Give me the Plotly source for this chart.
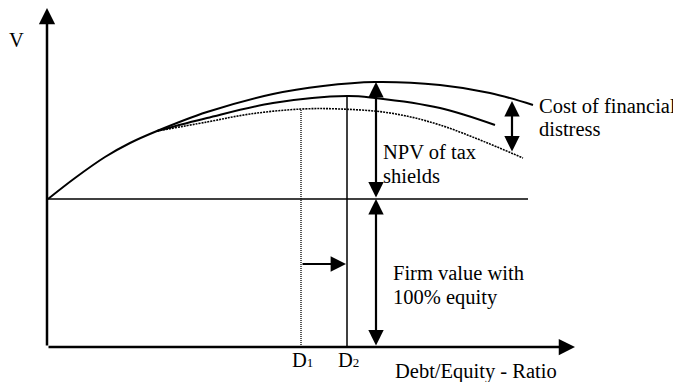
import plotly.graph_objects as go

# Curves (x = debt/equity ratio, y = firm value V)
levered_x = [1, 28, 58, 83, 110, 160, 226, 276, 328, 393, 443, 486]
levered_y = [148, 169, 190, 204, 216, 235, 253, 261, 265, 262, 254, 242]

actual_x = [110, 160, 226, 300, 328, 393, 448]
actual_y = [216, 229, 244, 251, 249, 239, 222]

distress_x = [110, 160, 203, 255, 293, 343, 393, 476]
distress_y = [216, 225, 233, 238, 238, 234, 222, 189]

unlevered_value = 148
unlevered_end = 481
d1 = 254
d2 = 300
d1_top = 238
d2_top = 251
x_axis_end = 528
y_axis_end = 339
arrow_x = 329
arrow_top = 265
distress_arrow_x = 465
distress_arrow = [246, 194]
shift_arrow_y = 83

FONT = "Liberation Serif, Times New Roman, serif"
INK = "black"

fig = go.Figure()

fig.add_trace(go.Scatter(x=levered_x, y=levered_y, mode="lines",
                         line=dict(color=INK, width=2, shape="spline")))
fig.add_trace(go.Scatter(x=actual_x, y=actual_y, mode="lines",
                         line=dict(color=INK, width=2, shape="spline")))
fig.add_trace(go.Scatter(x=distress_x, y=distress_y, mode="lines",
                         line=dict(color=INK, width=1.6, shape="spline", dash="2px,1px")))

# unlevered firm value line
fig.add_trace(go.Scatter(x=[0, unlevered_end], y=[unlevered_value, unlevered_value],
                         mode="lines", line=dict(color=INK, width=1.5)))
# D1 and D2 verticals
fig.add_trace(go.Scatter(x=[d1, d1], y=[0, d1_top], mode="lines",
                         line=dict(color=INK, width=1.3, dash="1px,1px")))
fig.add_trace(go.Scatter(x=[d2, d2], y=[0, d2_top], mode="lines",
                         line=dict(color=INK, width=1.5)))


def arrow(x0, y0, x1, y1, both=False, width=2, size=1.5):
    fig.add_annotation(x=x1, y=y1, ax=x0, ay=y0, xref="x", yref="y",
                       axref="x", ayref="y", text="", showarrow=True,
                       arrowhead=2, arrowsize=size, arrowwidth=width,
                       arrowcolor=INK, startarrowhead=2, startarrowsize=size,
                       arrowside="end+start" if both else "end",
                       standoff=0, startstandoff=0)


# axes
arrow(0, 0, x_axis_end, 0, width=2.5, size=1.3)
arrow(0, 0, 0, y_axis_end, width=2.5, size=1.3)
# NPV of tax shields and firm value arrows
arrow(arrow_x, unlevered_value, arrow_x, arrow_top, both=True, width=2.2, size=1.4)
arrow(arrow_x, 0, arrow_x, unlevered_value, both=True, width=2.2, size=1.4)
# cost of financial distress
arrow(distress_arrow_x, distress_arrow[1], distress_arrow_x, distress_arrow[0],
      both=True, width=2.2, size=1.4)
# shift from D1 to D2
arrow(d1, shift_arrow_y, d2 - 1, shift_arrow_y, width=2.2, size=1.4)


def label(x, y, text, xanchor="left", size=20.5):
    fig.add_annotation(x=x, y=y, xref="x", yref="y", text=text, showarrow=False,
                       xanchor=xanchor, yanchor="middle", align="left",
                       font=dict(family=FONT, size=size, color=INK))


label(-31, 307, "V", xanchor="center")
label(490, 241, "Cost of financial")
label(490, 218, "distress")
label(334, 195, "NPV of tax")
label(334, 171, "shields")
label(344, 74, "Firm value with")
label(344, 50, "100% equity")
label(d1 + 1, -13, "D<span style='font-size:13px'>1</span>", xanchor="center")
label(d2 + 1, -13, "D<span style='font-size:13px'>2</span>", xanchor="center")
label(346, -24, "Debt/Equity - Ratio")

# the page body adds an 8px offset, so the figure is made 8px smaller
# and the ranges are shifted to keep everything in the window
fig.update_layout(
    width=673, height=374,
    margin=dict(l=0, r=0, t=0, b=0),
    paper_bgcolor="white", plot_bgcolor="white",
    showlegend=False,
    xaxis=dict(range=[-39, 634], visible=False, fixedrange=True),
    yaxis=dict(range=[-35, 339], visible=False, fixedrange=True),
)

fig.write_html("out.html")
